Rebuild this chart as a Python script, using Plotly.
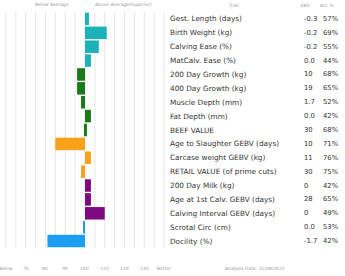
import plotly.graph_objects as go

traits = ["Gest. Length (days)", "Birth Weight (kg)", "Calving Ease (%)", "MatCalv. Ease (%)",
          "200 Day Growth (kg)", "400 Day Growth (kg)", "Muscle Depth (mm)", "Fat Depth (mm)",
          "BEEF VALUE", "Age to Slaughter GEBV (days)", "Carcase weight GEBV (kg)",
          "RETAIL VALUE (of prime cuts)", "200 Day Milk (kg)", "Age at 1st Calv. GEBV (days)",
          "Calving Interval GEBV (days)", "Scrotal Circ (cm)", "Docility (%)"]
ebv = ["-0.3", "-0.2", "-0.2", "0.0", "10", "19", "1.7", "0.0", "30", "10", "11", "30", "0", "28", "0", "0.0", "-1.7"]
acc = ["57%", "69%", "55%", "44%", "68%", "65%", "52%", "42%", "68%", "71%", "76%", "75%", "42%", "65%", "49%", "53%", "42%"]
index_vals = [102, 111, 107, 103, 96, 96, 98, 103, 101, 85, 103, 98, 103, 103, 110, 99, 81]
colors = ["#1bb3b8"] * 4 + ["#187a18"] * 5 + ["#f8a21c"] * 3 + ["#7e0a80"] * 3 + ["#1c9ff0"] * 2
tick_vals = [60, 70, 80, 90, 100, 110, 120, 130, 140]
tick_text = ["Below", "70", "80", "90", "100", "110", "120", "130", "Better"]

W, H = 345, 276
fig = go.Figure()
fig.add_trace(go.Bar(
    y=traits, x=[v - 100 for v in index_vals], base=100, orientation="h",
    marker=dict(color=colors, line=dict(width=0)), hoverinfo="skip", showlegend=False))

y0, y1 = (H - 248) / H, (H - 12) / H
fig.update_layout(
    width=W, height=H, margin=dict(l=0, r=0, t=0, b=0),
    paper_bgcolor="white", plot_bgcolor="white", bargap=0.1,
    font=dict(family="DejaVu Sans, sans-serif", color="#333"),
    xaxis=dict(domain=[0, 168 / W], range=[57, 142], showticklabels=False,
               showgrid=False, zeroline=False, showline=False, ticks=""),
    yaxis=dict(domain=[y0, y1], autorange="reversed", showticklabels=False,
               showgrid=False, zeroline=False, ticks=""),
)
for g in range(60, 141, 5):
    fig.add_shape(type="line", xref="x", yref="paper", x0=g, x1=g, y0=y0, y1=y1,
                  line=dict(color="#e6e6e6", width=1), layer="below")

def px(x):
    return x / W

ann = []
for tv, tt in zip(tick_vals, tick_text):
    ann.append(dict(x=tv, y=1 - 268 / H, xref="x", yref="paper", text=tt, showarrow=False,
                    xanchor="center", yanchor="middle", font=dict(size=4.5, color="#999")))
for t, e, a in zip(traits, ebv, acc):
    ann.append(dict(x=px(168), y=t, xref="paper", yref="y", text=t, showarrow=False, xanchor="left",
                    font=dict(size=7.3, color="#333")))
    ann.append(dict(x=px(302), y=t, xref="paper", yref="y", text=e, showarrow=False, xanchor="left",
                    font=dict(size=6.8, color="#333")))
    ann.append(dict(x=px(321), y=t, xref="paper", yref="y", text=a, showarrow=False, xanchor="left",
                    font=dict(size=6.8, color="#333")))
hdr = [("Below Average", 52, 5), ("Above Average(Superior)", 123, 5), ("Trait", 233, 6),
       ("EBV", 306, 6), ("Acc %", 327, 6), ("Analysis Date: 31/08/2022", 255, 268)]
for txt, x, y in hdr:
    ann.append(dict(x=px(x), y=1 - y / H, xref="paper", yref="paper", text=txt, showarrow=False,
                    xanchor="center", yanchor="middle", font=dict(size=4.5, color="#999")))
fig.update_layout(annotations=ann)
fig.write_html("out.html")
